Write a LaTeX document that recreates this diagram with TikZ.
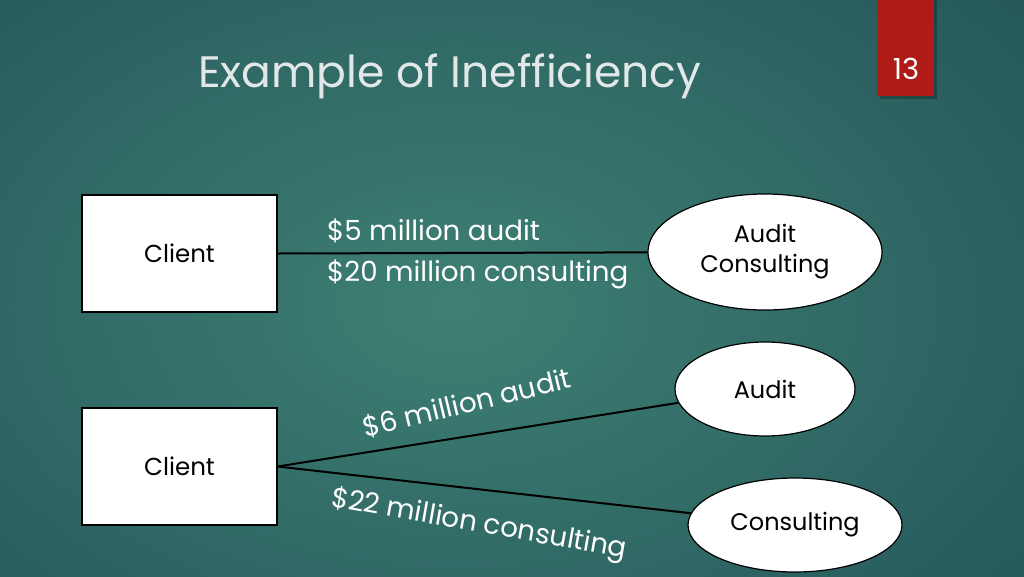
\documentclass[tikz,border=0pt]{standalone}
\usepackage{fontspec}
\setmainfont{Poppins}
\usetikzlibrary{shapes.geometric}
\definecolor{bgin}{HTML}{3E8073}
\definecolor{bgout}{HTML}{17404C}
\definecolor{slidered}{HTML}{B01A17}
\definecolor{titlegray}{HTML}{E2E8E8}
\pgfdeclareradialshading{slidebg}{\pgfpoint{0bp}{0bp}}{color(0bp)=(bgin); color(50bp)=(bgout); color(100bp)=(bgout)}
\begin{document}
\begin{tikzpicture}[x=1pt,y=-1pt,
  clientbox/.style={draw=black, line width=1.2pt, fill=white, minimum width=195pt, minimum height=117pt, inner sep=0pt, font=\fontsize{24.5}{28}\selectfont},
  firm/.style={ellipse, draw=black, line width=1.2pt, fill=white, inner sep=0pt, align=center, font=\fontsize{24}{30}\selectfont},
  link/.style={draw=black, line width=2pt},
  money/.style={text=white, inner sep=0pt, font=\fontsize{27.7}{32}\selectfont}]
\useasboundingbox (0,0) rectangle (1024,576);
\clip (0,0) rectangle (1024,576);
\shade[shading=slidebg] (-125,-75) rectangle (1035,685);
% slide number tab
\fill[black, opacity=0.25] (880,0) rectangle (937,99);
\fill[slidered] (877,0) rectangle (934,96);
\node[text=white, font=\fontsize{29}{32}\selectfont] (num) at (906,69) {13};
% title
\node[anchor=base west, text=titlegray, inner sep=0pt, font=\fontsize{44}{50}\selectfont] (title) at (198,87) {Example of Inefficiency};
% top
\node[clientbox] (c1) at (179.5,253.5) {Client};
\node[firm, minimum width=234pt, minimum height=116pt] (ac) at (765,252) {Audit\\Consulting};
\draw[link] (c1.east) -- (ac);
\node[money, anchor=west] (l1) at (327,231) {\$5 million audit};
\node[money, anchor=west] (l2) at (327,274) {\$20 million consulting};
% bottom
\node[clientbox] (c2) at (179.5,466.5) {Client};
\node[firm, minimum width=180pt, minimum height=94pt] (au) at (765,389) {Audit};
\node[firm, minimum width=214pt, minimum height=94pt] (co) at (795,525) {Consulting};
\draw[link] (c2.east) -- (au);
\draw[link] (c2.east) -- (co);
\node[money, rotate=13.5] (l3) at (467,403) {\$6 million audit};
\node[money, rotate=-10] (l4) at (479,525) {\$22 million consulting};
\end{tikzpicture}
\end{document}
